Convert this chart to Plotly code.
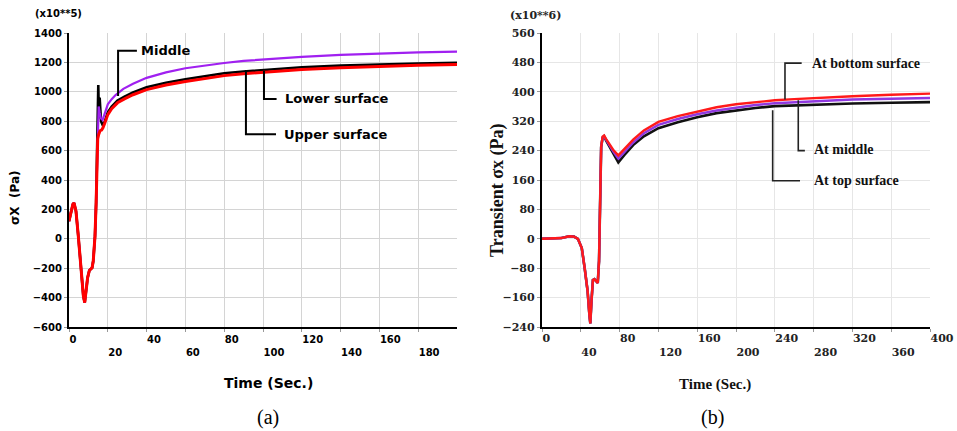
import plotly.graph_objects as go

# ---------------- Panel (a) data (units x10**5 Pa) ----------------
time_a_black = [0, 1, 2, 2.6, 3.6, 4.8, 6.2, 7.4, 8.1, 8.8, 9.6, 10.5, 11.9, 12.5, 13.4, 14.0,
                14.4, 14.8, 15.1, 15.4, 15.8, 16.5, 17.5, 18.5, 20, 22, 25, 28.6, 33, 40, 50,
                60, 70, 80, 90, 100, 120, 140, 160, 180, 200]
upper_a = [120, 180, 235, 244, 188, 18, -197, -389, -434, -366, -264, -215, -197, -151, 18, 250,
           600, 900, 1046, 820, 960, 800, 770, 800, 860, 900, 940, 967, 995, 1031, 1062,
           1085, 1108, 1126, 1138, 1148, 1167, 1178, 1187, 1193, 1198]

time_a_mid = [0, 1, 2, 2.6, 3.6, 4.8, 6.2, 7.4, 8.1, 8.8, 9.6, 10.5, 11.9, 12.5, 13.4, 14.0,
              14.4, 14.8, 15.3, 15.8, 16.4, 17.3, 18.5, 20, 22, 24, 28, 33, 40, 50, 60, 70,
              80, 90, 100, 120, 140, 160, 180, 200]
middle_a = [120, 180, 235, 244, 188, 18, -197, -389, -434, -366, -264, -215, -197, -151, 18, 250,
            450, 700, 900, 860, 820, 808, 850, 915, 950, 978, 1020, 1055, 1095, 1132, 1160, 1180,
            1196, 1210, 1220, 1238, 1251, 1261, 1268, 1273]

time_a_low = [0, 1, 2, 2.6, 3.6, 4.8, 6.2, 7.4, 8.1, 8.8, 9.6, 10.5, 11.9, 12.5, 13.4, 14.0,
              14.4, 14.8, 15.3, 16, 16.8, 17.5, 18.5, 20, 22, 25, 28.6, 33, 40, 50, 60, 70,
              80, 90, 100, 120, 140, 160, 180, 200]
lower_a = [120, 180, 235, 244, 188, 18, -197, -389, -434, -366, -264, -215, -197, -151, 18, 250,
           550, 680, 710, 735, 740, 755, 790, 845, 885, 925, 952, 980, 1015, 1046, 1070, 1092,
           1110, 1123, 1133, 1152, 1164, 1173, 1180, 1185]

xticks_a = [0, 20, 40, 60, 80, 100, 120, 140, 160, 180]
yticks_a = [-600, -400, -200, 0, 200, 400, 600, 800, 1000, 1200, 1400]

# label text, text anchor (x, y), leader polyline (x list, y list)
labels_a = ["Middle", "Lower surface", "Upper surface"]
label_pos_a = [(36, 1284), (110.3, 951), (109.8, 708)]
leader_x_a = [[35, 25.3, 25.3], [107, 100.5, 100.5], [106.7, 91.2, 91.2]]
leader_y_a = [[1280, 1280, 971], [951, 951, 1141], [712, 712, 1148]]

# ---------------- Panel (b) data (units x10**6 Pa) ----------------
time_b = [0, 10, 20, 28, 33, 37, 41, 44, 47, 48.8, 49.8, 51, 52.5, 54, 57.5, 58.8, 60, 61,
          62.5, 64, 66, 70, 74, 78.7, 85, 94, 105, 120, 140, 160, 180, 200, 220, 240, 260,
          280, 300, 320, 360, 400]
bottom_b = [0, 0, 2, 7, 6, 0, -25, -80, -142, -205, -230, -170, -112, -110, -120, -60, 120, 250,
            278, 281, 272, 255, 240, 227, 245, 270, 295, 318, 334, 347, 358, 366, 372, 377, 380,
            383, 386, 388, 392, 395]
middle_b = [0, 0, 2, 7, 6, 0, -25, -80, -142, -205, -230, -170, -112, -110, -120, -60, 120, 250,
            276, 279, 270, 252, 235, 218, 237, 262, 287, 310, 326, 339, 349, 357, 364, 369, 372,
            375, 377, 379, 381, 383]
top_b = [0, 0, 2, 7, 6, 0, -25, -80, -142, -205, -230, -170, -112, -110, -120, -60, 120, 250,
         275, 279, 268, 248, 230, 208, 228, 255, 279, 301, 317, 331, 342, 350, 356, 361, 363,
         365, 367, 368, 370, 372]

xticks_b = [0, 40, 80, 120, 160, 200, 240, 280, 320, 360, 400]
yticks_b = [-240, -160, -80, 0, 80, 160, 240, 320, 400, 480, 560]

labels_b = ["At bottom surface", "At middle", "At top surface"]
label_pos_b = [(276.3, 478), (278, 243), (278, 158)]
leader_x_b = [[267.7, 250.5, 250.5], [271, 264.2, 264.2], [266, 237.8, 237.8]]
leader_y_b = [[478, 478, 379], [240, 240, 377], [158, 158, 350]]

W, H = 957, 431
fig = go.Figure()

# panel (a) curves
fig.add_trace(go.Scatter(x=time_a_black, y=upper_a, mode="lines",
                         line=dict(color="#000000", width=2.6), xaxis="x", yaxis="y"))
fig.add_trace(go.Scatter(x=time_a_mid, y=middle_a, mode="lines",
                         line=dict(color="#a020f0", width=2.2), xaxis="x", yaxis="y"))
fig.add_trace(go.Scatter(x=time_a_low, y=lower_a, mode="lines",
                         line=dict(color="#ff0000", width=3), xaxis="x", yaxis="y"))
for lx, ly in zip(leader_x_a, leader_y_a):
    fig.add_trace(go.Scatter(x=lx, y=ly, mode="lines", line=dict(color="black", width=2),
                             xaxis="x", yaxis="y"))

# panel (b) curves
fig.add_trace(go.Scatter(x=time_b, y=top_b, mode="lines",
                         line=dict(color="#111111", width=2.6), xaxis="x2", yaxis="y2"))
fig.add_trace(go.Scatter(x=time_b, y=middle_b, mode="lines",
                         line=dict(color="#9038e0", width=2.4), xaxis="x2", yaxis="y2"))
fig.add_trace(go.Scatter(x=time_b, y=bottom_b, mode="lines",
                         line=dict(color="#ff1a1a", width=2.4), xaxis="x2", yaxis="y2"))
for lx, ly in zip(leader_x_b, leader_y_b):
    fig.add_trace(go.Scatter(x=lx, y=ly, mode="lines", line=dict(color="#222222", width=1.6),
                             xaxis="x2", yaxis="y2"))

# empty traces so the tick-label rows (overlay axes) get drawn
for xa, ya in [("x3", "y"), ("x5", "y"), ("x4", "y2"), ("x6", "y2")]:
    fig.add_trace(go.Scatter(x=[], y=[], mode="lines", xaxis=xa, yaxis=ya, hoverinfo="skip"))

sans = "DejaVu Sans"
serif = "Liberation Serif"
serif_t = "DejaVu Serif"
ydom = [1 - 327 / H, 1 - 33 / H]
xdom_a = [69 / W, 457 / W]
xdom_b = [542 / W, 930 / W]

common_axis = dict(showline=True, linecolor="black", linewidth=2.2, zeroline=False,
                   ticks="outside", ticklen=3, tickcolor="#999999", showgrid=True,
                   automargin=False)
font_a = dict(family=sans, size=10, color="black", weight="bold")
font_b = dict(family=serif_t, size=11, color="#222222", weight="bold")


def label_row(over, dom, rng, vals, font, ypx):
    # an invisible axis that only carries one row of left-aligned tick labels
    return dict(overlaying=over, domain=dom, range=rng, anchor="free", position=1 - ypx / H,
                side="bottom", tickvals=vals, ticklabelposition="outside right",
                ticks="outside", ticklen=3, tickcolor="rgba(0,0,0,0)", showline=False,
                showgrid=False, zeroline=False, automargin=False, tickfont=font)


fig.update_layout(
    width=W, height=H, showlegend=False,
    margin=dict(l=0, r=0, t=0, b=0, autoexpand=False),
    paper_bgcolor="white", plot_bgcolor="white",
    xaxis=dict(domain=xdom_a, range=[0, 200], tickvals=xticks_a, showticklabels=False,
               gridcolor="#d4d4d4", gridwidth=1, anchor="y", **common_axis),
    xaxis3=label_row("x", xdom_a, [0, 200], xticks_a[0::2], font_a, 330),
    xaxis5=label_row("x", xdom_a, [0, 200], xticks_a[1::2], font_a, 343),
    yaxis=dict(domain=ydom, range=[-600, 1400], tickvals=yticks_a,
               tickfont=font_a, gridcolor="#d4d4d4", gridwidth=1, anchor="x", **common_axis),
    xaxis2=dict(domain=xdom_b, range=[0, 400], tickvals=xticks_b, showticklabels=False,
                gridcolor="#e6e6e6", gridwidth=1, anchor="y2", **common_axis),
    xaxis4=label_row("x2", xdom_b, [0, 400], xticks_b[0::2], font_b, 328),
    xaxis6=label_row("x2", xdom_b, [0, 400], xticks_b[1::2], font_b, 342),
    yaxis2=dict(domain=ydom, range=[-240, 560], tickvals=yticks_b,
                tickfont=font_b, gridcolor="#e6e6e6", gridwidth=1, anchor="x2", **common_axis),
)

ann = []
for txt, (ax, ay) in zip(labels_a, label_pos_a):
    ann.append(dict(x=ax, y=ay, xref="x", yref="y", text=txt, showarrow=False,
                    xanchor="left", yanchor="middle",
                    font=dict(family=sans, size=13, color="black", weight="bold")))
for txt, (ax, ay) in zip(labels_b, label_pos_b):
    ann.append(dict(x=ax, y=ay, xref="x2", yref="y2", text=txt, showarrow=False,
                    xanchor="left", yanchor="middle",
                    font=dict(family=serif, size=14, color="#111111", weight="bold")))

# axis titles, multipliers and captions
ann += [
    dict(x=33 / W, y=1 - 14 / H, xref="paper", yref="paper", text="(x10**5)", showarrow=False,
         xanchor="left", yanchor="middle", font=dict(family=sans, size=10, color="black", weight="bold")),
    dict(x=15 / W, y=1 - 197 / H, xref="paper", yref="paper", text="σX\u00a0\u00a0(Pa)", showarrow=False,
         textangle=-90, xanchor="center", yanchor="middle",
         font=dict(family=sans, size=12, color="black", weight="bold")),
    dict(x=268 / W, y=1 - 383 / H, xref="paper", yref="paper", text="Time (Sec.)", showarrow=False,
         xanchor="center", yanchor="middle", font=dict(family=sans, size=14, color="black", weight="bold")),
    dict(x=268 / W, y=1 - 417 / H, xref="paper", yref="paper", text="(a)", showarrow=False,
         xanchor="center", yanchor="middle", font=dict(family=serif, size=20, color="black")),
    dict(x=508 / W, y=1 - 15 / H, xref="paper", yref="paper", text="(x10**6)", showarrow=False,
         xanchor="left", yanchor="middle", font=dict(family=serif_t, size=11, color="#222222", weight="bold")),
    dict(x=497 / W, y=1 - 191 / H, xref="paper", yref="paper", text="Transient σx (Pa)", showarrow=False,
         textangle=-90, xanchor="center", yanchor="middle",
         font=dict(family=serif, size=18, color="#111111", weight="bold")),
    dict(x=715 / W, y=1 - 384 / H, xref="paper", yref="paper", text="Time (Sec.)", showarrow=False,
         xanchor="center", yanchor="middle", font=dict(family=serif, size=15, color="#111111", weight="bold")),
    dict(x=712 / W, y=1 - 417 / H, xref="paper", yref="paper", text="(b)", showarrow=False,
         xanchor="center", yanchor="middle", font=dict(family=serif, size=20, color="black")),
]
fig.update_layout(annotations=ann)

fig.write_html("out.html", config={"displayModeBar": False},
               post_script="document.body.style.margin='0';document.body.style.padding='0';")
